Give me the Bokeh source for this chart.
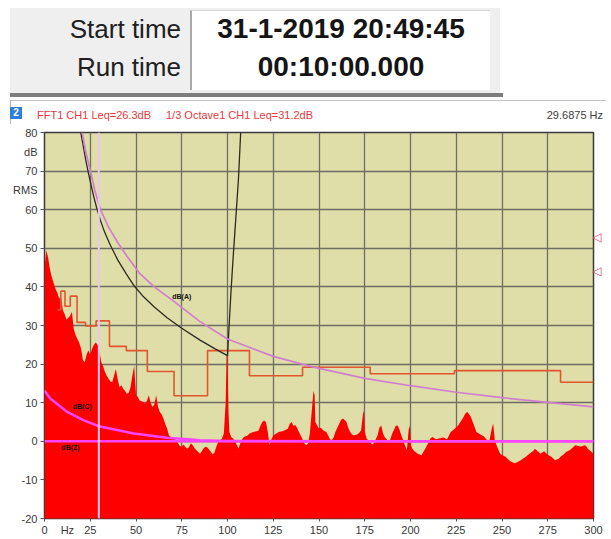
from bokeh.plotting import figure
from bokeh.models import Range1d, FixedTicker, Span, Div, LinearAxis
from bokeh.layouts import column
from bokeh.embed import file_html
from bokeh.resources import INLINE
from bokeh.core.properties import value

FONT = "Liberation Sans"

# ---------------- data ----------------
start_time = "31-1-2019 20:49:45"
run_time = "00:10:00.000"
title_fft = "FFT1 CH1 Leq=26.3dB"
title_oct = "1/3 Octave1 CH1 Leq=31.2dB"
cursor_hz = 29.6875

x_ticks = [0, 25, 50, 75, 100, 125, 150, 175, 200, 225, 250, 275, 300]
x_unit_pos = 12.5
y_ticks = [-20, -10, 0, 10, 20, 30, 40, 50, 60, 70, 80]
y_unit_pos = {75: "dB", 65: "RMS"}

# FFT spectrum (Hz, dB)
spec_f = [0, 1, 2, 3, 4, 5, 6, 7, 8, 9, 10, 11, 12, 13, 14, 15, 16, 17, 18, 19,
          20, 21, 22, 23, 24, 25, 26, 27, 28, 29, 30, 31, 32, 33, 34, 35, 36, 37, 38, 39,
          40, 41, 42, 43, 44, 45, 46, 47, 48, 49, 50, 51, 52, 53, 54, 55, 56, 57, 58, 59,
          60, 61, 62, 63, 64, 65, 66, 67, 68, 69, 70, 71, 72, 73, 74, 75, 76, 77, 78, 79,
          80, 81, 82, 83, 84, 85, 86, 87, 88, 89, 90, 91, 92, 93, 94, 95, 96, 97, 98,
          99, 99.5, 100, 100.5, 101, 102, 103, 104, 105, 106, 107, 108, 109, 110, 111, 112,
          114, 116, 117, 118, 119, 120, 121, 122, 123, 124, 125, 126, 128, 130, 132, 133,
          134, 135, 136, 137, 138, 139, 140, 141, 142, 143, 144, 145, 146, 147, 147.6, 148,
          149, 150, 151, 152, 153, 154, 155, 156, 157, 158, 159, 160, 161, 162, 163, 164,
          165, 166, 167, 168, 169, 170, 171, 172, 173, 174, 174.5, 175, 176, 177, 178, 179,
          180, 181, 182, 183, 184, 185, 186, 187, 188, 189, 190, 191, 192, 193, 194, 195,
          196, 197, 198, 199, 199.6, 200.2, 201, 202, 204, 206, 208, 210, 211, 212, 213,
          214, 216, 218, 220, 221, 222, 224, 226, 228, 229, 230, 231, 232, 233, 234, 235,
          236, 238, 240, 242, 243, 244.5, 245.2, 246, 247, 248, 249, 251, 252, 254, 255,
          257, 258, 260, 262, 263, 265, 267, 268, 270, 271, 273, 275, 277, 279, 281, 282,
          284, 285, 287, 289, 290, 292, 293, 295, 296, 297, 299, 300]
spec_db = [45, 49.5, 47.5, 44.5, 42.5, 41, 39.5, 38.5, 37, 37.5, 34, 33, 31.5, 32, 32.5, 33.5, 29, 27.5, 26.5, 25.5,
           24, 21, 20.5, 22.5, 23.5, 22.5, 24, 25, 25.6, 25, 23.5, 20.5, 19.5, 18, 17, 16.2, 15.5, 15.3, 17, 18.7,
           16, 14, 14.5, 13.6, 13, 12.3, 12.5, 14, 17, 19.6, 12, 11.5, 10.6, 10.4, 10.2, 9.8, 10.5, 11.9, 10, 8.9,
           9.5, 11.9, 9, 7.6, 7, 5.9, 4.5, 3.3, 1.5, 1.1, 0.5, 0.8, 0.3, -0.5, -1.2, -1.4, -0.8, -1.5, -1.9, -1.5,
           -0.5, -1.0, -1.8, -2.3, -2.8, -3.2, -2.5, -1.8, -1.4, -1.6, -2.2, -2.8, -3.4, -2.8, -1.2, -0.2, 0.3, 0.7, 2.0,
           10, 22.2, 22, 8, 2.5, 1.1, 0.7, 0.2, -0.8, -1.9, -0.5, 0.5, 1.1, 1.3, 1.5, 2.0,
           2.4, 2.6, 2.8, 4.0, 5.0, 5.4, 5.0, 2.5, -1.0, 0.5, 1.5, 1.8, 2.4, 2.6, 3.0, 3.3,
           4.5, 5.0, 4.0, 4.2, 3.5, 2.5, 1.5, 0.5, -0.5, -1.0, -0.6, 2.0, 7.6, 13.1, 12, 5,
           4.1, 3.3, 3.5, 3.0, 2.6, 2.4, 1.5, 0.5, 0.3, 1.0, 2.5, 3.5, 4.5, 5.5, 5.9, 5.5,
           5.0, 3.5, 2.4, 1.8, 1.5, 1.6, 1.8, 2.2, 2.8, 7.0, 8.0, 2.5, 0.7, 0.2, -0.3, -0.8,
           -0.5, 0.5, 1.5, 3.5, 4.1, 2.0, 1.0, 0.5, -0.2, 0.5, 2.0, 3.0, 4.0, 4.1, 3.0, 1.5,
           0.3, -1.0, -2.3, 3.0, 4.1, -1.0, -1.9, -2.5, -3.2, -3.6, -2.0, -0.2, 0.8, 1.1, 0.8,
           0.5, 0.8, 1.0, 0.5, 1.5, 2.4, 3.2, 4.1, 5.5, 6.3, 7.2, 7.6, 7.0, 6.3, 5.0, 3.8,
           2.4, 1.8, 1.3, 0.2, -0.2, 3.5, 4.6, 0.5, -1.0, -2.2, -3.2, -3.8, -4.0, -5.0, -5.3,
           -5.7, -5.5, -5.0, -4.3, -4.0, -3.2, -2.5, -1.9, -2.8, -3.2, -2.6, -3.5, -4.0, -4.9, -4.5, -4.0,
           -3.3, -2.8, -2.3, -1.5, -1.0, -1.2, -1.4, -1.0, -1.2, -2.0, -2.8, -3.2]

# 1/3 octave bands: band edges (Hz) and band levels (dB)
oct_edges = [7.1, 8.9, 11.2, 14.1, 17.8, 22.4, 28.2, 35.5, 44.7, 56.2, 70.8, 89.1,
             112, 141, 178, 224, 282, 300]
oct_db = [34.0, 38.9, 35.0, 37.6, 30.8, 29.9, 31.2, 24.6, 23.5, 18.1, 11.8, 23.5,
          17.0, 19.2, 17.5, 18.3, 15.3]

# black criterion curve
crit_f = [19.8, 21.0, 22.5, 24.0, 25.5, 27.0, 28.5, 30.5, 33.0, 36.0, 40.0, 44.5,
          48.6, 54.0, 60.0, 67.0, 75.0, 85.0, 93.0, 100.0,
          101.0, 102.0, 103.0, 104.0, 105.0, 106.0, 107.2]
crit_db = [80, 77, 73, 69.5, 66.3, 63.2, 60.5, 57.3, 54, 50.8, 47, 43.5,
           40.5, 37.5, 34.8, 32, 29.3, 26.2, 24, 22.2,
           31, 39.5, 47, 54, 61, 68, 80]

# dB(A) curve (pink)
a_f = [20.6, 22.5, 25, 27.5, 30.6, 35, 40, 45, 52, 60, 70, 85, 100, 125, 147, 175, 200, 225, 250, 275, 300]
a_db = [80, 75, 70.3, 65, 60, 55.5, 51.5, 48, 43.5, 40, 36.5, 31, 26.5, 22, 19.2, 16.3, 14.4, 12.7, 11.3, 10.1, 8.9]

# dB(C) curve
c_f = [0, 3.3, 12.4, 21.5, 29.7, 48.8, 67, 85, 100, 150, 300]
c_db = [13.1, 11, 7.6, 5.4, 3.9, 2.0, 0.9, 0.3, 0.1, 0, 0]

# dB(Z) curve
z_f = [0, 300]
z_db = [0, 0]

curve_labels = ["dB(A)", "dB(C)", "dB(Z)"]
curve_label_f = [75, 20.6, 14.2]
curve_label_db = [37.6, 8.9, -1.7]

marker_db = [53.0, 44.2]

# ---------------- header (HTML) ----------------
hdr_html = f"""
<div style="position:relative;width:611px;height:124px;background:#ffffff;overflow:hidden;
font-family:'Liberation Sans',Arial,sans-serif;">
  <div style="position:absolute;left:10px;top:8px;width:490px;height:85px;background:#efefef;"></div>
  <div style="position:absolute;left:10px;top:93px;width:493px;height:4px;background:#7d7d7d;"></div>
  <div style="position:absolute;left:190px;top:10px;width:300px;height:80px;background:#ffffff;
       border-left:2px solid #a9a9a9;border-top:1px solid #d6d6d6;"></div>
  <div style="position:absolute;left:0px;width:181px;top:14px;height:30px;line-height:30px;
       text-align:right;font-size:26px;color:#202020;">Start time</div>
  <div style="position:absolute;left:0px;width:181px;top:52px;height:30px;line-height:30px;
       text-align:right;font-size:26px;color:#202020;">Run time</div>
  <div style="position:absolute;left:190px;width:302px;top:13px;height:32px;line-height:32px;
       text-align:center;font-size:28px;font-weight:bold;color:#151515;">{start_time}</div>
  <div style="position:absolute;left:190px;width:302px;top:51px;height:32px;line-height:32px;
       text-align:center;font-size:28px;font-weight:bold;color:#151515;">{run_time}</div>
  <div style="position:absolute;left:10px;top:100px;width:596px;height:1px;background:#c4c4c4;"></div>
  <div style="position:absolute;left:10px;top:100px;width:1px;height:24px;background:#b4b4b4;"></div>
  <div style="position:absolute;left:10px;top:107px;width:12px;height:12px;background:#2e7fd8;
       color:#ffffff;font-size:10px;font-weight:bold;line-height:12px;text-align:center;">2</div>
  <div style="position:absolute;left:37px;top:108px;height:14px;line-height:14px;
       font-size:11px;color:#e8383d;white-space:nowrap;">{title_fft}</div>
  <div style="position:absolute;left:166px;top:108px;height:14px;line-height:14px;
       font-size:11px;color:#e8383d;white-space:nowrap;">{title_oct}</div>
  <div style="position:absolute;left:450px;width:153px;top:108px;height:14px;line-height:14px;
       text-align:right;font-size:11px;color:#404040;white-space:nowrap;">{cursor_hz} Hz</div>
</div>
"""
hdr = Div(text=hdr_html, width=611, height=124, margin=(0, 0, 0, 0))

# ---------------- main chart ----------------
p = figure(width=611, height=414, x_range=Range1d(0, 300), y_range=Range1d(-20, 80),
           output_backend="svg", toolbar_location=None,
           min_border_left=44, min_border_right=18, min_border_top=8, min_border_bottom=18)
p.background_fill_color = "#dfdda8"
p.border_fill_color = "white"
p.outline_line_color = "#3a3a3a"
p.outline_line_width = 1.5

x_major = sorted(x_ticks + [x_unit_pos])
p.xaxis.ticker = FixedTicker(ticks=x_major, minor_ticks=x_ticks)
x_over = {t: str(t) for t in x_ticks}
x_over[x_unit_pos] = "Hz"
p.xaxis.major_label_overrides = x_over

y_major = sorted(y_ticks + list(y_unit_pos.keys()))
p.yaxis.ticker = FixedTicker(ticks=y_major, minor_ticks=y_ticks)
y_over = {t: str(t) for t in y_ticks}
y_over.update(y_unit_pos)
p.yaxis.major_label_overrides = y_over

for ax in (p.xaxis, p.yaxis):
    ax.axis_line_color = None
    ax.major_tick_line_color = None
    ax.minor_tick_line_color = "#555555"
    ax.minor_tick_in = 0
    ax.major_label_text_font = FONT
    ax.major_label_text_font_size = "11px"
    ax.major_label_text_color = "#383838"
p.xaxis.minor_tick_out = 3
p.xaxis.major_tick_out = 3
p.xaxis.major_label_standoff = 2
p.yaxis.minor_tick_out = 4
p.yaxis.major_tick_out = 4
p.yaxis.major_label_standoff = 3

# right-hand level markers
ax_r = LinearAxis(ticker=FixedTicker(ticks=marker_db),
                  major_label_overrides={v: "\u25c1" for v in marker_db})
ax_r.axis_line_color = None
ax_r.major_tick_line_color = None
ax_r.minor_tick_line_color = None
ax_r.major_tick_out = 0
ax_r.minor_tick_out = 0
ax_r.major_tick_in = 0
ax_r.minor_tick_in = 0
ax_r.major_label_standoff = -1
ax_r.major_label_text_font = "DejaVu Sans"
ax_r.major_label_text_font_size = "12px"
ax_r.major_label_text_color = "#e05060"
p.add_layout(ax_r, "right")

p.xgrid.ticker = FixedTicker(ticks=x_ticks)
p.ygrid.ticker = FixedTicker(ticks=y_ticks)
p.grid.grid_line_color = "#6e6e62"
p.grid.grid_line_width = 1.3

p.varea(x=spec_f, y1=-21, y2=spec_db, fill_color="#ff0000")
p.step(x=oct_edges, y=oct_db + [oct_db[-1]], mode="after", line_color="#e2552e", line_width=1.6)

p.add_layout(Span(location=cursor_hz, dimension="height", line_color="#e8c8ee", line_width=2))

p.line(crit_f, crit_db, line_color="#2b2b20", line_width=1.3)
p.line(a_f, a_db, line_color="#d07fd0", line_width=1.7)
p.line(c_f, c_db, line_color="#ff44ff", line_width=2.5)
p.line(z_f, z_db, line_color="#ff44ff", line_width=2.5)

p.text(x=curve_label_f, y=curve_label_db, text=curve_labels, text_align="center",
       text_baseline="middle", text_font=value(FONT), text_font_size="7px",
       text_font_style="bold", text_color="#111111")

layout = column(hdr, p, spacing=0)
open("out.html", "w").write(file_html(layout, INLINE))
